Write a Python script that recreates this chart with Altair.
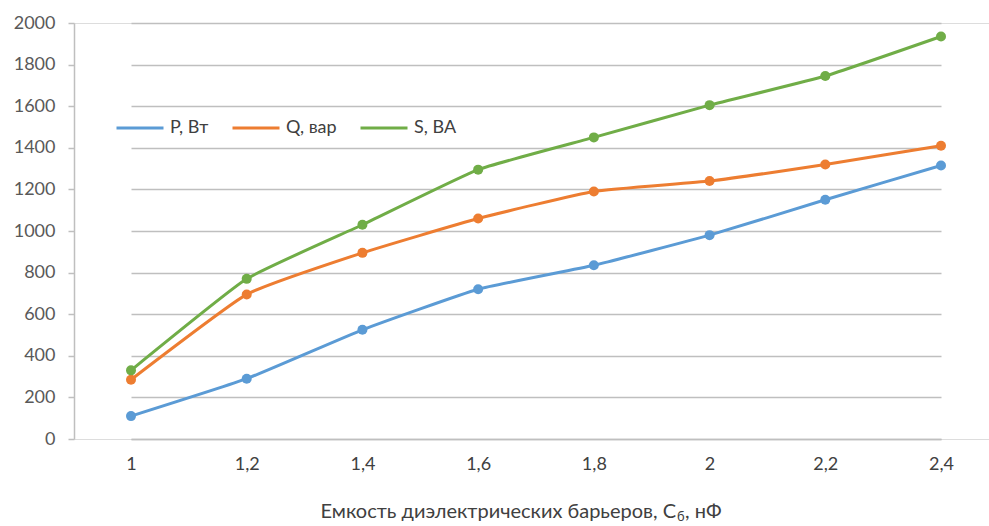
import altair as alt
import pandas as pd

# Capacitance of the dielectric barriers (nF), as printed on the axis
capacitance = ["1", "1,2", "1,4", "1,6", "1,8", "2", "2,2", "2,4"]

# Power values for each capacitance
p_values = [110, 290, 525, 720, 835, 980, 1150, 1315]
q_values = [285, 695, 895, 1060, 1190, 1240, 1320, 1410]
s_values = [330, 770, 1030, 1295, 1450, 1605, 1745, 1935]

series_names = ["P, Вт", "Q, вар", "S, ВА"]
series_colors = ["#5b9bd5", "#ed7d31", "#70ad47"]
y_ticks = list(range(0, 2001, 200))

# x-axis title, split so that the "б" can be set as a subscript of C
title_main = "Емкость диэлектрических барьеров, C"
title_sub = "б"
title_tail = ", нФ"

rows = []
for name, vals in zip(series_names, [p_values, q_values, s_values]):
    for c, v in zip(capacitance, vals):
        rows.append({"C": c, "value": v, "series": name})
df = pd.DataFrame(rows)

FONT = "Lato"
GRID = "#bfbfbf"
TEXT = "#404040"

x_enc = alt.X(
    "C:N",
    sort=capacitance,
    scale=alt.Scale(type="point", range=[57, 867], padding=0),
    axis=alt.Axis(
        title=None,
        labelAngle=0,
        labelFontSize=18,
        labelColor=TEXT,
        labelPadding=16,
        ticks=False,
        grid=False,
        domainColor=GRID,
        domainWidth=1.5,
    ),
)

y_enc = alt.Y(
    "value:Q",
    scale=alt.Scale(domain=[0, 2000], nice=False),
    axis=alt.Axis(
        values=y_ticks,
        format="d",
        title=None,
        grid=True,
        gridColor=GRID,
        gridWidth=1.5,
        domainColor=GRID,
        domainWidth=1.5,
        tickColor=GRID,
        tickWidth=1.5,
        tickSize=6,
        labelFontSize=18,
        labelColor="#595959",
        labelPadding=13,
    ),
)

color_enc = alt.Color(
    "series:N",
    sort=series_names,
    scale=alt.Scale(domain=series_names, range=series_colors),
    legend=alt.Legend(
        orient="none",
        legendX=41,
        legendY=80,
        direction="horizontal",
        title=None,
        symbolType="stroke",
        symbolSize=2209,
        symbolStrokeWidth=3,
        labelFontSize=18,
        labelColor=TEXT,
        labelOffset=5,
        columnPadding=17,
        padding=0,
    ),
)

lines = (
    alt.Chart(df)
    .mark_line(
        interpolate="cardinal",
        tension=0.6,
        strokeWidth=3,
        point=alt.OverlayMarkDef(filled=True, size=100, opacity=1),
    )
    .encode(x=x_enc, y=y_enc, color=color_enc)
)

# x-axis title pieces, anchored at the right edge of "C"
title_df = pd.DataFrame({"main": [title_main], "sub": [title_sub], "tail": [title_tail]})
title_base = alt.Chart(title_df)
anchor_x = 602
anchor_y = 489
t_main = title_base.mark_text(
    align="right", baseline="middle", fontSize=20, color=TEXT
).encode(text="main:N", x=alt.value(anchor_x), y=alt.value(anchor_y))
t_sub = title_base.mark_text(
    align="left", baseline="middle", fontSize=13, color=TEXT, dx=1, dy=5
).encode(text="sub:N", x=alt.value(anchor_x), y=alt.value(anchor_y))
t_tail = title_base.mark_text(
    align="left", baseline="middle", fontSize=20, color=TEXT, dx=9
).encode(text="tail:N", x=alt.value(anchor_x), y=alt.value(anchor_y))

chart = (
    alt.layer(lines, t_main, t_sub, t_tail)
    .properties(
        width=915,
        height=416,
        autosize=alt.AutoSizeParams(type="none"),
        padding={"left": 74, "top": 23, "right": 0, "bottom": 87},
        background="white",
    )
    .configure_view(stroke=None)
    .configure(font=FONT)
)

chart.save("out.html", embed_options={"renderer": "svg", "actions": False})
